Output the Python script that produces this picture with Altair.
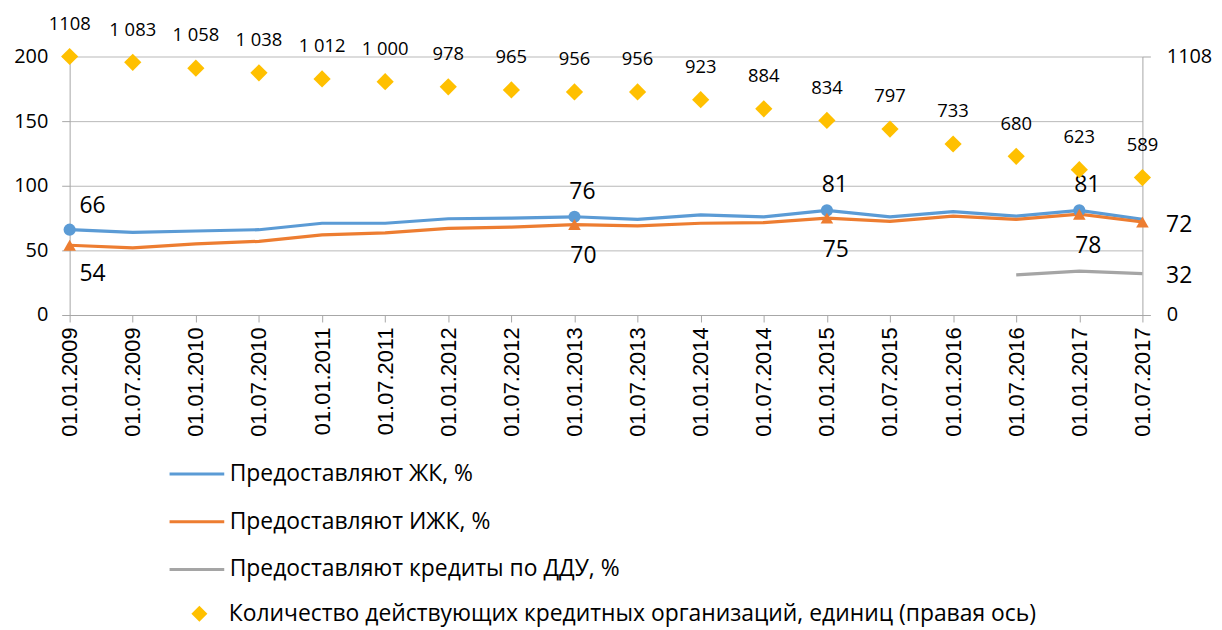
import altair as alt
import pandas as pd

dates = ["01.01.2009", "01.07.2009", "01.01.2010", "01.07.2010", "01.01.2011", "01.07.2011",
         "01.01.2012", "01.07.2012", "01.01.2013", "01.07.2013", "01.01.2014", "01.07.2014",
         "01.01.2015", "01.07.2015", "01.01.2016", "01.07.2016", "01.01.2017", "01.07.2017"]
zhk = [66, 64, 65, 66, 71, 71, 74.5, 75, 76, 74, 77.5, 76, 81, 76, 80, 76.5, 81, 74]
izhk = [54, 52, 55, 57, 62, 63.5, 67, 68, 70, 69, 71, 71.5, 75, 72.5, 76.5, 74, 78, 72]
ddu = [None] * 15 + [31, 34, 32]
counts = [1108, 1083, 1058, 1038, 1012, 1000, 978, 965, 956, 956, 923, 884, 834, 797, 733, 680, 623, 589]
count_labels = ["1108", "1 083", "1 058", "1 038", "1 012", "1 000", "978", "965", "956", "956",
                "923", "884", "834", "797", "733", "680", "623", "589"]

S1 = "Предоставляют ЖК, %"
S2 = "Предоставляют ИЖК, %"
S3 = "Предоставляют кредиты по ДДУ, %"
S4 = "Количество действующих кредитных организаций, единиц (правая ось)"
line_series = [S1, S2, S3]
line_colors = ["#5B9BD5", "#ED7D31", "#A5A5A5"]
diamond_color = "#FFC000"

zhk_marked = [0, 8, 12, 16]
izhk_marked = [0, 8, 12, 16, 17]
ddu_labeled = [17]

rows = []
for i, d in enumerate(dates):
    rows.append({"date": d, "i": i, "series": S1, "value": zhk[i]})
    rows.append({"date": d, "i": i, "series": S2, "value": izhk[i]})
    if ddu[i] is not None:
        rows.append({"date": d, "i": i, "series": S3, "value": ddu[i]})
long_df = pd.DataFrame(rows)

wide = pd.DataFrame({"date": dates, "i": list(range(len(dates))), "zhk": zhk, "izhk": izhk,
                     "ddu": ddu, "count": counts, "clabel": count_labels, "series": S4})

FONT = "Open Sans"
GRID = "#b8b8b8"
AX = "#a6a6a6"

x_enc = alt.X("date:N", sort=dates, scale=alt.Scale(padding=0),
              axis=alt.Axis(title=None, labelAngle=270, labelFont="Liberation Sans", labelFontSize=22,
                            labelColor="black", tickColor=AX, tickSize=7, domainColor=AX,
                            labelPadding=5, grid=False))

y_left_scale = alt.Scale(domain=[0, 200], nice=False, zero=True)
y_left_axis = alt.Axis(title=None, values=[0, 50, 100, 150, 200], grid=True, gridColor=GRID,
                       domainColor=AX, tickColor=AX, tickSize=8, labelPadding=14,
                       labelFont=FONT, labelFontSize=20, labelColor="black", orient="left")

color_enc = alt.Color("series:N", scale=alt.Scale(domain=line_series, range=line_colors),
                      legend=alt.Legend(orient="none", legendX=99, legendY=391, direction="vertical",
                                        title=None, symbolType="stroke", symbolSize=3025,
                                        symbolStrokeWidth=3, labelFont=FONT, labelFontSize=23,
                                        labelColor="black", rowPadding=7, labelOffset=4,
                                        padding=0, labelLimit=1000))

base = alt.Chart(long_df)
lines = base.mark_line(strokeWidth=3.2).encode(
    x=x_enc,
    y=alt.Y("value:Q", scale=y_left_scale, axis=y_left_axis),
    color=color_enc,
)

wbase = alt.Chart(wide)
yl = lambda f: alt.Y(f, scale=y_left_scale, axis=y_left_axis)

circles = wbase.transform_filter(alt.FieldOneOfPredicate(field="i", oneOf=zhk_marked)).mark_point(
    shape="circle", filled=True, size=150, opacity=1, color="#5B9BD5").encode(x=x_enc, y=yl("zhk:Q"))
triangles = wbase.transform_filter(alt.FieldOneOfPredicate(field="i", oneOf=izhk_marked)).mark_point(
    shape="triangle-up", filled=True, size=160, opacity=1, color="#ED7D31").encode(x=x_enc, y=yl("izhk:Q"))

def lbl(field, idx, dx, dy):
    return wbase.transform_filter(alt.FieldOneOfPredicate(field="i", oneOf=idx)).mark_text(
        font=FONT, fontSize=23, color="black", dx=dx, dy=dy, baseline="middle", align="center"
    ).encode(x=x_enc, y=yl(f"{field}:Q"), text=alt.Text(f"{field}:Q", format="d"))

zhk_first = lbl("zhk", zhk_marked[:1], 23, -24)
zhk_rest = lbl("zhk", zhk_marked[1:], 8, -25)
izhk_first = lbl("izhk", izhk_marked[:1], 23, 29)
izhk_mid = lbl("izhk", izhk_marked[1:-1], 9, 32)
izhk_last = lbl("izhk", izhk_marked[-1:], 37, 3)
ddu_last = lbl("ddu", ddu_labeled, 37, 2)

left = alt.layer(lines, circles, triangles, zhk_first, zhk_rest, izhk_first, izhk_mid, izhk_last, ddu_last)

y_right_scale = alt.Scale(domain=[0, 1108], nice=False, zero=True)
y_right_axis = alt.Axis(title=None, values=[0, 1108], format="d", grid=False, domainColor=AX,
                        tickColor=AX, tickSize=8, labelPadding=16, labelFont=FONT, labelFontSize=20,
                        labelColor="black", orient="right")

shape_enc = alt.Shape("series:N", scale=alt.Scale(domain=[S4], range=["diamond"]),
                      legend=alt.Legend(orient="none", legendX=119, legendY=549, title=None,
                                        symbolSize=260, symbolFillColor=diamond_color,
                                        symbolStrokeColor=diamond_color, symbolStrokeWidth=0,
                                        symbolOpacity=1,
                                        labelFont=FONT, labelFontSize=23, labelColor="black",
                                        labelOffset=18, padding=0, labelLimit=1000))

diamonds = wbase.mark_point(filled=True, size=300, opacity=1, color=diamond_color).encode(
    x=x_enc, y=alt.Y("count:Q", scale=y_right_scale, axis=y_right_axis), shape=shape_enc)
count_text = wbase.mark_text(font=FONT, fontSize=18.5, color="black", dy=-33, baseline="middle").encode(
    x=x_enc, y=alt.Y("count:Q", scale=y_right_scale, axis=y_right_axis), text="clabel:N")

right = alt.layer(diamonds, count_text)

chart = alt.layer(left, right).resolve_scale(y="independent").properties(
    width=1079, height=260,
    autosize=alt.AutoSizeParams(type="none"),
    padding={"left": 62, "top": 47, "right": 72, "bottom": 312},
    background="white",
).configure_view(stroke=None)

chart.save("out.html", embed_options={"renderer": "svg", "actions": False})
